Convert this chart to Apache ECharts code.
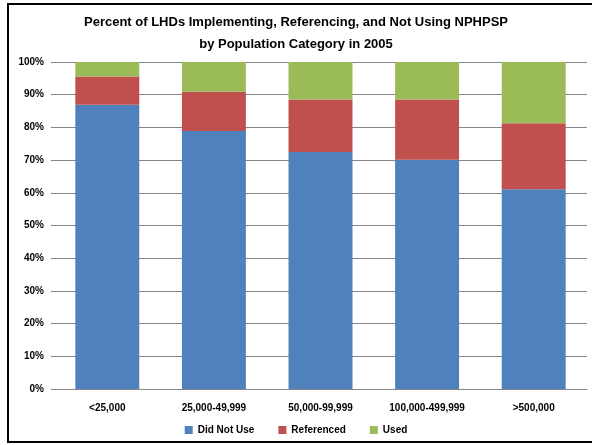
<!DOCTYPE html>
<html>
<head>
<meta charset="utf-8">
<script src="https://cdn.jsdelivr.net/npm/echarts@6/dist/echarts.min.js"></script>
<style>
  html, body { margin: 0; padding: 0; background: #fff; }
  #main { width: 592px; height: 445px; }
</style>
</head>
<body>
<div id="main"></div>
<script>
// population categories along the x axis
const categories = ['<25,000', '25,000-49,999', '50,000-99,999', '100,000-499,999', '>500,000']
// percent of LHDs per category
const didNotUse = [86.9, 78.9, 72.5, 70.1, 61.1]
const referenced = [8.7, 12.0, 16.0, 18.4, 20.2]
const used = [4.4, 9.1, 11.5, 11.5, 18.7]

const seriesNames = ['Did Not Use', 'Referenced', 'Used']
const seriesColors = ['#4F81BD', '#C0504D', '#9BBB59']

let chart = echarts.init(document.getElementById('main'))

const labelFont = {
  fontFamily: 'Liberation Sans',
  fontWeight: 'bold',
  fontSize: 10,
  color: '#000'
}

function makeSeries (name, data, idx) {
  return {
    name: name,
    type: 'bar',
    stack: 'total',
    barCategoryGap: '40%',
    data: data,
    itemStyle: { color: seriesColors[idx] }
  }
}

let option = {
  animation: false,
  backgroundColor: '#fff',
  title: {
    text: 'Percent of LHDs Implementing, Referencing, and Not Using NPHPSP\nby Population Category in 2005',
    left: 'center',
    top: 6,
    textStyle: {
      fontFamily: 'Liberation Sans',
      fontWeight: 'bold',
      fontSize: 13,
      lineHeight: 22,
      color: '#000'
    }
  },
  graphic: [{
    type: 'rect',
    shape: { x: 8, y: 4, width: 600, height: 438 },
    style: { fill: 'none', stroke: '#000', lineWidth: 2 },
    silent: true
  }],
  legend: {
    data: seriesNames,
    bottom: 5,
    left: 'center',
    icon: 'rect',
    itemWidth: 8,
    itemHeight: 8,
    itemGap: 24,
    textStyle: labelFont
  },
  grid: {
    left: 54,
    right: 5,
    top: 62,
    bottom: 56,
    containLabel: false
  },
  xAxis: {
    type: 'category',
    data: categories,
    axisTick: { show: false },
    axisLine: { lineStyle: { color: '#868686', width: 1 } },
    axisLabel: Object.assign({ margin: 14 }, labelFont)
  },
  yAxis: {
    type: 'value',
    min: 0,
    max: 100,
    interval: 10,
    axisLine: { show: false },
    axisTick: { show: true, length: 3, lineStyle: { color: '#868686' } },
    splitLine: { lineStyle: { color: '#868686', width: 1 } },
    axisLabel: Object.assign({ formatter: '{value}%', margin: 10 }, labelFont)
  },
  series: [
    makeSeries(seriesNames[0], didNotUse, 0),
    makeSeries(seriesNames[1], referenced, 1),
    makeSeries(seriesNames[2], used, 2)
  ]
}

chart.setOption(option)
</script>
</body>
</html>
